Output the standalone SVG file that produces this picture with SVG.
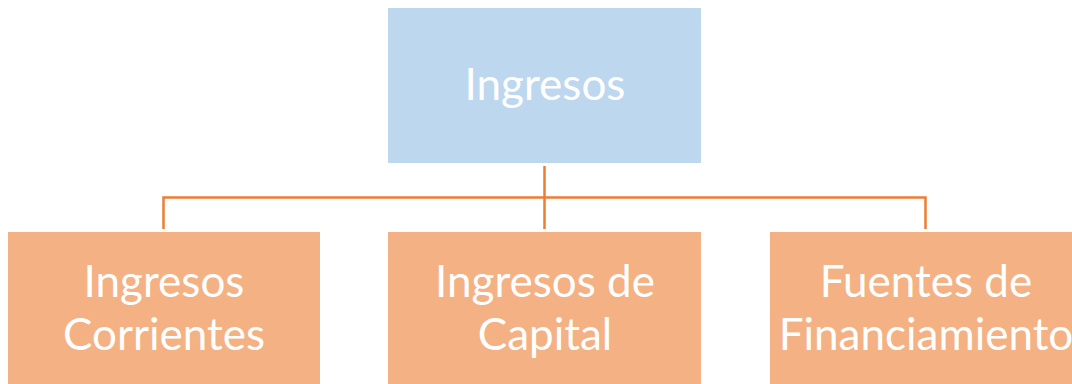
<svg xmlns="http://www.w3.org/2000/svg" width="1072" height="384" viewBox="0 0 1072 384">
<style>
.top{fill:#BDD7EE}
.child{fill:#F4B183}
.lbl{font-family:Lato,"Open Sans","Liberation Sans",sans-serif;font-size:44px;fill:#FFFFFF;text-anchor:middle}
.conn{stroke:#ED7D31;stroke-width:2.5;fill:none}
</style>
<rect width="1072" height="384" fill="#FFFFFF"/>
<g id="connectors">
<path class="conn" d="M544.5 166 V229"/>
<path class="conn" d="M163.5 229 V197.5 H925.5 V229"/>
</g>
<g id="ingresos">
<rect class="top" x="388" y="8" width="313" height="155"/>
<text class="lbl" x="545" y="100">Ingresos</text>
</g>
<g id="corrientes">
<rect class="child" x="8" y="232" width="312" height="155"/>
<text class="lbl" x="164" y="297">Ingresos</text>
<text class="lbl" x="164" y="350">Corrientes</text>
</g>
<g id="capital">
<rect class="child" x="388" y="232" width="313" height="155"/>
<text class="lbl" x="545" y="297">Ingresos de</text>
<text class="lbl" x="545" y="350">Capital</text>
</g>
<g id="fuentes">
<rect class="child" x="770" y="232" width="313" height="155"/>
<text class="lbl" x="926" y="297">Fuentes de</text>
<text class="lbl" x="926" y="350">Financiamiento</text>
</g>
</svg>
